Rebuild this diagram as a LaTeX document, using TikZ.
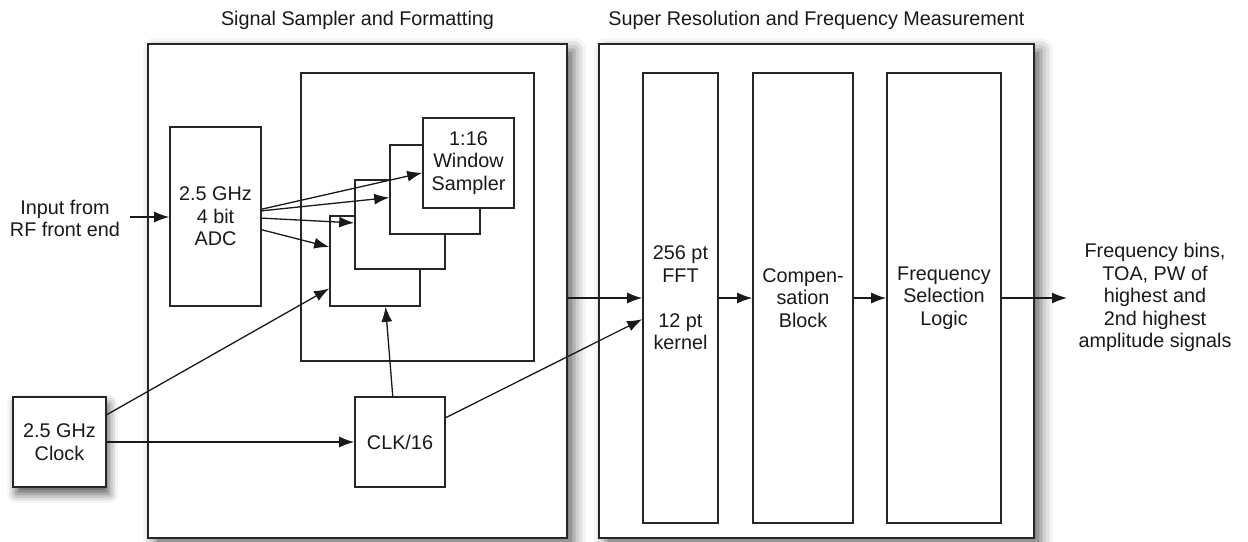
\documentclass[tikz,border=0pt]{standalone}
\usepackage{fontspec}
\setmainfont{Liberation Sans}
\usetikzlibrary{arrows.meta,shadows.blur}

\begin{document}
\begin{tikzpicture}[x=0.5pt,y=-0.5pt,
  font=\fontsize{9.9pt}{11.25pt}\selectfont,
  every node/.style={text=black!90},
  block/.style={draw=black!85, line width=0.8pt, fill=white, inner sep=0pt, align=center},
  stage/.style={draw=black!85, line width=1pt, fill=white, inner sep=0pt,
    blur shadow={shadow xshift=3.5pt, shadow yshift=-3pt, shadow blur radius=6pt, shadow opacity=60}},
  srcbox/.style={block, blur shadow={shadow xshift=1.5pt, shadow yshift=-3.5pt, shadow blur radius=4.5pt, shadow opacity=65}},
  plain/.style={align=center, inner sep=0pt},
  sig/.style={draw=black!90, line width=0.65pt, -{Latex[length=7.5pt,width=5.5pt]}}
]
\useasboundingbox (0,0) rectangle (1248,541);

% the two processing stages
\node[stage, minimum width=209.5pt, minimum height=247pt] (sampler) at (357.5,291) {};
\node[stage, minimum width=217.5pt, minimum height=247pt] (superres) at (816.5,291) {};
\node[plain] (t1) at ([yshift=11.5pt]sampler.north) {Signal Sampler and Formatting};
\node[plain] (t2) at ([yshift=11.5pt]superres.north) {Super Resolution and Frequency Measurement};

% sampler internals
\node[block, minimum width=116.5pt, minimum height=144pt] (bank) at (417.5,217) {};
\node[block, minimum width=45.5pt, minimum height=89.5pt] (adc) at (215.5,216.5) {2.5 GHz\\4 bit\\ADC};
\node[block, minimum width=45pt, minimum height=45pt] (s4) at (375,261) {};
\node[block, minimum width=45pt, minimum height=44.5pt] (s3) at (400,224.5) {};
\node[block, minimum width=45pt, minimum height=44.5pt] (s2) at (435,189.5) {};
\node[block, minimum width=45.5pt, minimum height=45pt] (s1) at (468.5,163) {1:16\\Window\\Sampler};
\node[block, minimum width=45pt, minimum height=45pt] (clk) at (400,442) {CLK/16};

% clock source outside the stages
\node[srcbox, minimum width=46.5pt, minimum height=45pt] (clock) at (59.5,442) {2.5 GHz\\Clock};
\node[plain] (input) at (65,218.5) {Input from\\RF front end};

% measurement chain
\node[block, minimum width=37.5pt, minimum height=225pt] (fft) at (680.5,298) {256 pt\\FFT\\[11.25pt]12 pt\\kernel};
\node[block, minimum width=50pt, minimum height=225pt] (comp) at (803,298) {Compen-\\sation\\Block};
\node[block, minimum width=57pt, minimum height=225pt] (fsel) at (944,298) {Frequency\\Selection\\Logic};
\node[plain] (result) at (1155,297.5) {Frequency bins,\\TOA, PW of\\highest and\\2nd highest\\amplitude signals};
\coordinate (outtip) at (1067,298);
\coordinate (intail) at (130,217);

% connections
\draw[sig] (intail) -- (adc.west |- intail);
\draw[sig] (adc.9) -- (s1.192);
\draw[sig] (adc.7) -- (s2.190);
\draw[sig] (adc.-2) -- (s3.178);
\draw[sig] (adc.-16) -- (s4.163);
\draw[sig] (clock.30) -- (s4.211);
\draw[sig] (clock.east) -- (clk.west);
\draw[sig] (clk.99) -- (s4.283);
\draw[sig] (clk.28) -- (fft.209);
\draw[sig] (sampler.east |- fft.west) -- (fft.west);
\draw[sig] (fft.east) -- (comp.west);
\draw[sig] (comp.east) -- (fsel.west);
\draw[sig] (fsel.east) -- (outtip);
\end{tikzpicture}
\end{document}
